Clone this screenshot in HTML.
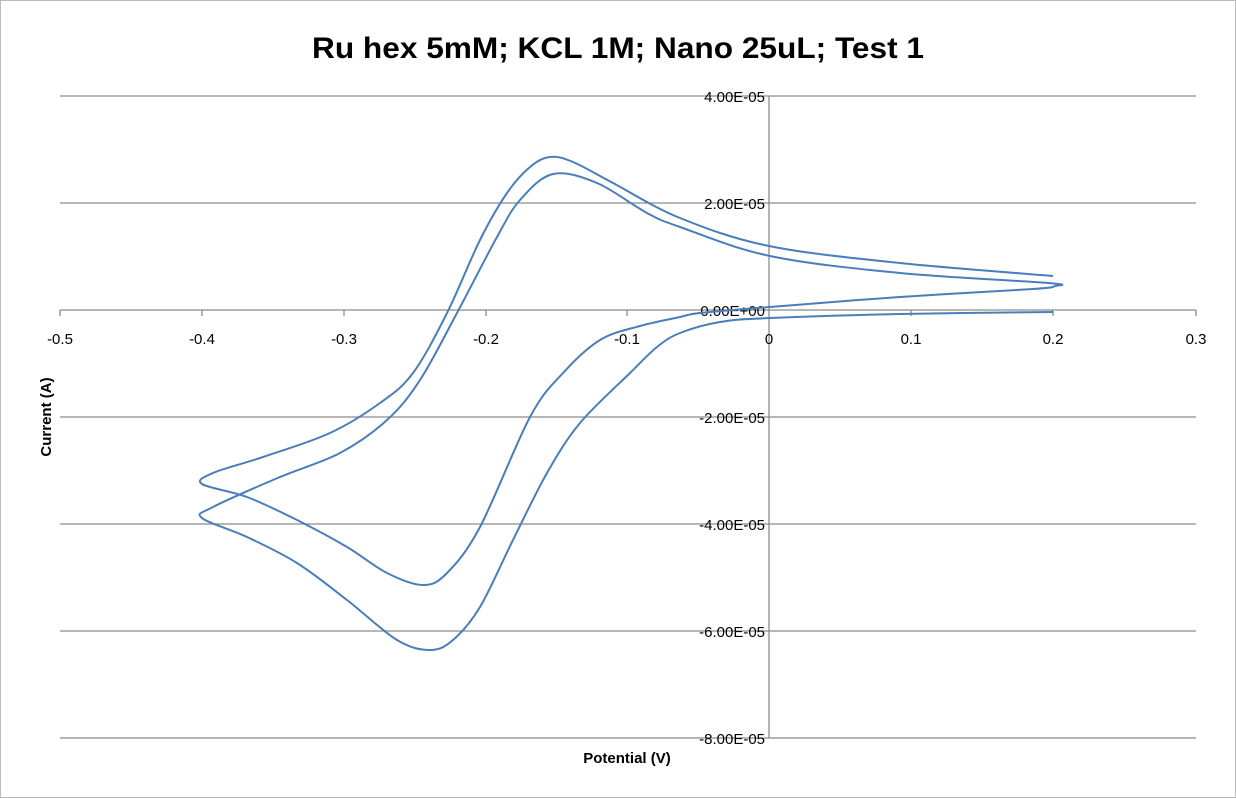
<!DOCTYPE html>
<html><head><meta charset="utf-8"><style>
html,body{margin:0;padding:0;background:#fff}
svg{display:block}
text{font-family:"Liberation Sans",sans-serif}
</style></head><body>
<svg id="s" width="1236" height="798" viewBox="0 0 1236 798" xmlns="http://www.w3.org/2000/svg">
<rect x="0.5" y="0.5" width="1235" height="797" fill="#fff" stroke="#bbb"/>
<text x="618" y="58" text-anchor="middle" font-size="30" font-weight="bold" textLength="612" lengthAdjust="spacingAndGlyphs">Ru hex 5mM; KCL 1M; Nano 25uL; Test 1</text>
<g stroke="#8c8c8c" stroke-width="1.3">
<line x1="60" y1="96" x2="1196" y2="96"/>
<line x1="60" y1="203" x2="1196" y2="203"/>
<line x1="60" y1="310" x2="1196" y2="310"/>
<line x1="60" y1="417" x2="1196" y2="417"/>
<line x1="60" y1="524" x2="1196" y2="524"/>
<line x1="60" y1="631" x2="1196" y2="631"/>
<line x1="60" y1="738" x2="1196" y2="738"/>
<line x1="769" y1="96" x2="769" y2="738"/>
<line x1="60" y1="310" x2="60" y2="316"/>
<line x1="202" y1="310" x2="202" y2="316"/>
<line x1="344" y1="310" x2="344" y2="316"/>
<line x1="486" y1="310" x2="486" y2="316"/>
<line x1="627" y1="310" x2="627" y2="316"/>
<line x1="911" y1="310" x2="911" y2="316"/>
<line x1="1053" y1="310" x2="1053" y2="316"/>
<line x1="1196" y1="310" x2="1196" y2="316"/>
</g>
<g font-size="15" text-anchor="middle">
<text x="60" y="344">-0.5</text><text x="202" y="344">-0.4</text><text x="344" y="344">-0.3</text>
<text x="486" y="344">-0.2</text><text x="627" y="344">-0.1</text><text x="769" y="344">0</text>
<text x="911" y="344">0.1</text><text x="1053" y="344">0.2</text><text x="1196" y="344">0.3</text>
</g>
<g font-size="15" text-anchor="end">
<text x="765" y="102">4.00E-05</text><text x="765" y="209">2.00E-05</text><text x="765" y="316">0.00E+00</text>
<text x="765" y="423">-2.00E-05</text><text x="765" y="530">-4.00E-05</text><text x="765" y="637">-6.00E-05</text>
<text x="765" y="744">-8.00E-05</text>
</g>
<text x="627" y="763" text-anchor="middle" font-size="15" font-weight="bold">Potential (V)</text>
<text transform="translate(51,417) rotate(-90)" text-anchor="middle" font-size="15" font-weight="bold">Current (A)</text>
<path id="c" fill="none" stroke="#4a7ebb" stroke-width="2"/>
</svg>
<script>
var p=[[1053,312],[900,314],[770,318],[720,322],[680,333],[657,347],[630,373],[580,423],[547,473],[513,540],[480,607],[453,640],[430,650],[397,640],[347,600],[297,563],[247,537],[202,518],[213,507],[280,477],[340,453],[387,420],[420,380],[457,313],[497,237],[520,200],[553,174],[597,183],[647,213],[680,227],[770,256],[900,273],[1048,283],[1055,286],[1033,289],[900,297],[770,307],[700,313],[680,317],[640,326],[600,340],[563,373],[530,417],[480,527],[447,573],[423,585],[387,573],[347,547],[297,520],[247,497],[202,484],[213,473],[263,457],[330,433],[380,403],[413,373],[447,313],[480,240],[507,193],[530,167],[550,157],[573,162],[613,183],[680,218],[769,246],[900,263],[1053,276]];
var d="M"+p[0][0]+","+p[0][1];
for(var i=0;i<p.length-1;i++){var a=p[Math.max(i-1,0)],b=p[i],c=p[i+1],e=p[Math.min(i+2,p.length-1)];
var t=1/6;d+="C"+(b[0]+(c[0]-a[0])*t)+","+(b[1]+(c[1]-a[1])*t)+" "+(c[0]-(e[0]-b[0])*t)+","+(c[1]-(e[1]-b[1])*t)+" "+c[0]+","+c[1];}
document.getElementById("c").setAttribute("d",d);
</script>
</body></html>
